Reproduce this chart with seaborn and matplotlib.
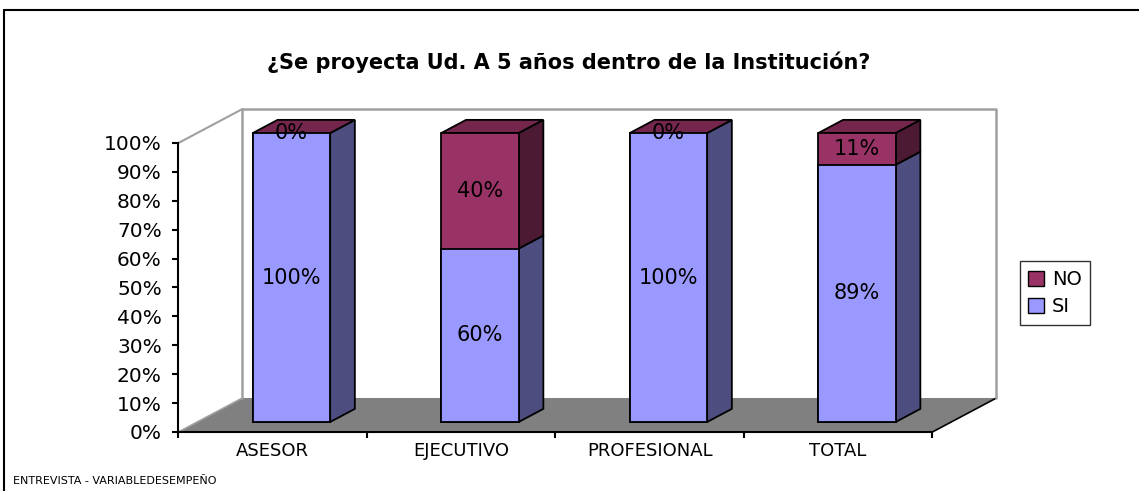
import numpy as np
import pandas as pd
import matplotlib.pyplot as plt
from matplotlib.patches import Polygon, Patch
from matplotlib.lines import Line2D
import seaborn as sns

categories = ["ASESOR", "EJECUTIVO", "PROFESIONAL", "TOTAL"]
si_values = [100, 60, 100, 89]
no_values = [0, 40, 0, 11]
y_ticks = [0, 10, 20, 30, 40, 50, 60, 70, 80, 90, 100]
title = "¿Se proyecta Ud. A 5 años dentro de la Institución?"
footer = "ENTREVISTA - VARIABLEDESEMPEÑO"

SI_FRONT, SI_SIDE, SI_TOP = "#9999FF", "#4D4D80", "#7373BF"
NO_FRONT, NO_SIDE, NO_TOP = "#993366", "#4D1A33", "#74264D"
FLOOR = "#808080"
WALL = "#A0A0A0"

df = pd.DataFrame({"cat": categories, "SI": si_values, "NO": no_values})
df["total"] = df["SI"] + df["NO"]

sns.set_style("white")
plt.rcParams["font.family"] = ["DejaVu Sans"]
plt.rcParams["text.color"] = "black"
plt.rcParams["xtick.color"] = "black"
plt.rcParams["ytick.color"] = "black"

W, H = 1139, 491
fig = plt.figure(figsize=(W / 100, H / 100), dpi=100)
ax = fig.add_axes([0, 0, 1, 1])

# pixel scale of the chart: one category = 188.5 px, 1% = 2.89 px
px_x, px_y = 188.5, 2.89
x_origin_px, y_origin_px = 291.5, 422.0   # front face centre of first bar / bar base
dx, dy = 64 / px_x, 34 / px_y              # full floor depth
f0, f1 = 0.294, 0.68                       # bar front / back depth fractions
x0, y0 = -0.5 - f0 * dx, -f0 * dy         # front-left corner of the floor
n = len(categories)
bdx, bdy = (f1 - f0) * dx, (f1 - f0) * dy

# stacked bars: total in NO colour, SI drawn over it
sns.barplot(data=df, x="cat", y="total", color=NO_FRONT, saturation=1,
            width=0.41, edgecolor="black", linewidth=1.3, ax=ax, zorder=3)
k = len(ax.patches)
sns.barplot(data=df, x="cat", y="SI", color=SI_FRONT, saturation=1,
            width=0.41, edgecolor="black", linewidth=1.3, ax=ax, zorder=3)
tot_bars = ax.patches[:k]
si_bars = ax.patches[k:]

# 3d sides and tops
for tb, sb, si, no in zip(tot_bars, si_bars, si_values, no_values):
    xl, w = tb.get_x(), tb.get_width()
    xr = xl + w
    top = si + no
    for lo, hi, col in [(0, si, SI_SIDE), (si, top, NO_SIDE)]:
        ax.add_patch(Polygon([(xr, lo), (xr + bdx, lo + bdy), (xr + bdx, hi + bdy), (xr, hi)],
                             closed=True, fc=col, ec="black", lw=1.3, zorder=2.8))
    ax.add_patch(Polygon([(xl, top), (xr, top), (xr + bdx, top + bdy), (xl + bdx, top + bdy)],
                         closed=True, fc=NO_TOP, ec="black", lw=1.3, zorder=2.8))
    cx = xl + w / 2
    ax.text(cx, si / 2, f"{si}%", ha="center", va="center", fontsize=15, zorder=5)
    ax.text(cx, si + no / 2, f"{no}%", ha="center", va="center", fontsize=15, zorder=5)

# floor and walls
ax.add_patch(Polygon([(x0, y0), (x0 + n, y0), (x0 + n + dx, y0 + dy), (x0 + dx, y0 + dy)],
                     closed=True, fc=FLOOR, ec="none", zorder=1))
ax.plot([x0 + n, x0 + n + dx], [y0, y0 + dy], color="black", lw=1.2, zorder=1.5)
ax.plot([x0, x0 + dx], [y0, y0 + dy], color=WALL, lw=1.2, zorder=1.5)
ax.plot([x0, x0 + dx], [y0 + 100, y0 + 100 + dy], color=WALL, lw=1.5, zorder=1.5)
ax.plot([x0 + dx, x0 + dx, x0 + n + dx, x0 + n + dx],
        [y0 + dy, y0 + 100 + dy, y0 + 100 + dy, y0 + dy], color=WALL, lw=1.8, zorder=1.5)

ax.set_xlim(-x_origin_px / px_x, (W - x_origin_px) / px_x)
ax.set_ylim((y_origin_px - H) / px_y, y_origin_px / px_y)
ax.set_xlabel("")
ax.set_ylabel("")
ax.set_facecolor("none")

for s in ["top", "right"]:
    ax.spines[s].set_visible(False)
ax.spines["left"].set_position(("data", x0))
ax.spines["left"].set_bounds(y0, y0 + 100)
ax.spines["bottom"].set_position(("data", y0))
ax.spines["bottom"].set_bounds(x0, x0 + n)
for s in ["left", "bottom"]:
    ax.spines[s].set_color("black")
    ax.spines[s].set_linewidth(1.5)
    ax.spines[s].set_zorder(4)

ax.set_yticks([y0 + v for v in y_ticks], [f"{v}%" for v in y_ticks])
ax.set_xticks([x0 + i for i in range(n + 1)], [""] * (n + 1))
ax.set_xticks([x0 + 0.5 + i for i in range(n)], categories, minor=True)
ax.tick_params(axis="y", direction="out", length=4, width=1.5, color="black",
               pad=8, labelsize=14.5, left=True)
ax.tick_params(axis="x", which="major", direction="out", length=4, width=1.5,
               color="black", bottom=True)
ax.tick_params(axis="x", which="minor", length=0, pad=7, labelsize=13)

fig.text(0.4996, 1 - 62 / H, title, ha="center", va="center",
         fontsize=15, fontweight="bold")
fig.text(13 / W, 1 - 481 / H, footer, ha="left", va="center", fontsize=8)

handles = [Patch(fc=NO_FRONT, ec="black", lw=1, label="NO"),
           Patch(fc=SI_FRONT, ec="black", lw=1, label="SI")]
leg = fig.legend(handles=handles, loc="center", bbox_to_anchor=(1055 / W, 1 - 293 / H),
                 frameon=True, fancybox=False, edgecolor="black", fontsize=14,
                 handlelength=0.8, handleheight=0.8, handletextpad=0.4,
                 labelspacing=0.4, borderpad=0.45, borderaxespad=0)
leg.get_frame().set_linewidth(1)

fig.add_artist(Line2D([4 / W, 4 / W], [0, 1 - 10 / H], color="black", lw=1.5))
fig.add_artist(Line2D([4 / W, 1], [1 - 10 / H, 1 - 10 / H], color="black", lw=1.5))

fig.savefig("out.png", dpi=100)
